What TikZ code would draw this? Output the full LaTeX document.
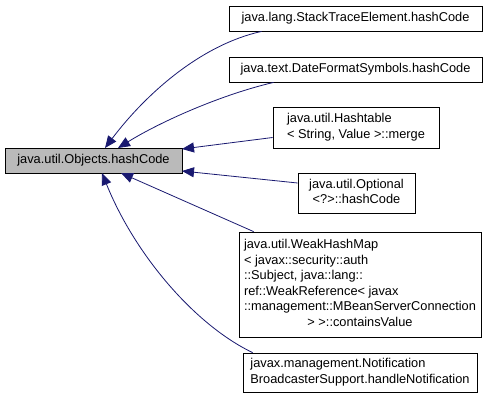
\documentclass[tikz,border=0pt]{standalone}
\usepackage{fontspec}
\setmainfont{Liberation Sans}
\usetikzlibrary{arrows.meta}
\definecolor{edgeblue}{RGB}{25,25,112}
\begin{document}
\begin{tikzpicture}[x=1pt,y=-1pt,
  box/.style={draw=black,line width=0.8pt,fill=white,inner sep=0pt,font=\fontsize{12.8}{15.5}\selectfont},
  mainbox/.style={box,fill=black!27},
  edge/.style={draw=edgeblue,line width=0.8pt,
    -{Triangle[length=12pt,width=10pt]}}]
\useasboundingbox (0,0) rectangle (489,409);
\node[mainbox,minimum width=177pt,minimum height=25pt] (main) at (93.5,160.5) {java.util.Objects.hashCode};
\node[box,minimum width=253pt,minimum height=25pt] (b1) at (355.5,18.5) {java.lang.StackTraceElement.hashCode};
\node[box,minimum width=253pt,minimum height=25pt] (b2) at (355.5,69.5) {java.text.DateFormatSymbols.hashCode};
\node[box,minimum width=166pt,minimum height=41pt] (b3) at (356,127.5) {\begin{tabular}{@{}l@{}}java.util.Hashtable\\\multicolumn{1}{@{}c@{}}{< String, Value >::merge}\end{tabular}};
\node[box,minimum width=117pt,minimum height=40pt] (b4) at (356.5,193) {\begin{tabular}{@{}l@{}}java.util.Optional\\\multicolumn{1}{@{}c@{}}{<?>::hashCode}\end{tabular}};
\node[box,minimum width=242pt,minimum height=105pt] (b5) at (360,284.5) {\begin{tabular}{@{}l@{}}java.util.WeakHashMap\\< javax::security::auth\\::Subject, java::lang::\\ref::WeakReference< javax\\::management::MBeanServerConnection\\\multicolumn{1}{@{}c@{}}{> >::containsValue}\end{tabular}};
\node[box,minimum width=234pt,minimum height=39pt] (b6) at (360,372.5) {\begin{tabular}{@{}l@{}}javax.management.Notification\\\multicolumn{1}{@{}c@{}}{BroadcasterSupport.handleNotification}\end{tabular}};
\coordinate (t1) at (105,148);
\coordinate (t2) at (118,148);
\coordinate (t3) at (182,149);
\coordinate (t4) at (182,171);
\coordinate (t5) at (121,173);
\coordinate (t6) at (102,173);
\path[edge] (b1.south west) ++(33,0) .. controls (200,45) and (145,95) .. (t1);
\path[edge] (b2.south west) ++(45,0) .. controls (220,95) and (160,122) .. (t2);
\path[edge] (b3.west) ++(0,10) -- (t3);
\path[edge] (b4.west) ++(0,-10) -- (t4);
\path[edge] (b5.north west) ++(15,0) -- (t5);
\path[edge] (b6.north west) ++(10,0) .. controls (195,325) and (135,255) .. (t6);
\end{tikzpicture}
\end{document}
